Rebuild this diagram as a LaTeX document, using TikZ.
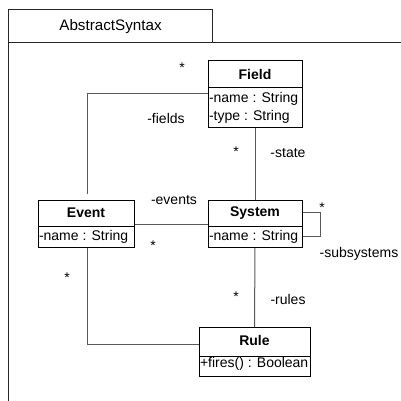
\documentclass[tikz,border=0pt]{standalone}
\usepackage{fontspec}
\setmainfont{Liberation Sans}
\begin{document}
\begin{tikzpicture}[x=1pt,y=-1pt,
  every node/.style={inner sep=0pt, outer sep=0pt, font=\fontsize{14}{16}\selectfont},
  cls/.style={draw=black, line width=1pt, fill=white, rectangle},
  sep/.style={draw=black, line width=1pt},
  conn/.style={draw=black!65, line width=1pt},
  pkg/.style={draw=black!85, line width=1pt},
  title/.style={font=\fontsize{14}{16}\selectfont\bfseries, anchor=center},
  attr/.style={anchor=west},
  lbl/.style={anchor=center}]
\useasboundingbox (0,0) rectangle (400,401);
% package
\draw[pkg] (8,402) -- (8,10) -- (212,10) -- (212,43);
\draw[pkg] (8,43) -- (402,43);
\node[lbl, font=\fontsize{15.2}{16}\selectfont] (pkgname) at (110.5,27) {AbstractSyntax};
% class boxes
\node[cls, minimum width=94, minimum height=66] (field) at (255,94) {};
\node[cls, minimum width=96, minimum height=47] (event) at (86,223.5) {};
\node[cls, minimum width=94, minimum height=47] (system) at (255,223.5) {};
\node[cls, minimum width=111, minimum height=49] (rule) at (254.5,351.5) {};
% connectors
\draw[conn, shorten >=6pt] (field.west) -| ([xshift=1pt]event.north);
\draw[conn] (field.south) -- (system.north);
\draw[conn] ([yshift=-1pt]event.east) -- ([yshift=-1pt]system.west);
\draw[conn] ([yshift=11pt]system.east) -- ++(18.7,0) |- ([yshift=-13pt]system.east);
\draw[conn] ([xshift=1pt]event.south) |- ([yshift=7.5pt]rule.west);
\draw[conn] (system.south) -- (rule.north);
% redraw boxes on top
\node[cls, minimum width=94, minimum height=66] at (field) {};
\node[cls, minimum width=96, minimum height=47] at (event) {};
\node[cls, minimum width=94, minimum height=47] at (system) {};
\node[cls, minimum width=111, minimum height=49] at (rule) {};
% Field
\draw[sep] (208,88) -- (302,88);
\node[title] (fieldt) at (255,74.5) {Field};
\node[attr] (fielda) at (209,98.5) {-name : String};
\node[attr] (fieldb) at (209,116.5) {-type : String};
% Event
\draw[sep] (38,226) -- (134,226);
\node[title] (eventt) at (86,213) {Event};
\node[attr] (eventa) at (39,237) {-name : String};
% System
\draw[sep] (208,226) -- (302,226);
\node[title] (systemt) at (255,213) {System};
\node[attr] (systema) at (209,237) {-name : String};
% Rule
\draw[sep] (199,356) -- (310,356);
\node[title] (rulet) at (254.5,340.5) {Rule};
\node[attr] (rulea) at (200,364) {+fires() : Boolean};
% labels
\node[lbl] (s1) at (182,68) {*};
\node[lbl] (l1) at (166,118.5) {-fields};
\node[lbl] (s2) at (236,152) {*};
\node[lbl] (l2) at (288,153.5) {-state};
\node[lbl] (l3) at (174,200) {-events};
\node[lbl] (s3) at (153,246) {*};
\node[lbl] (s4) at (322,208) {*};
\node[lbl] (l4) at (359,253.5) {-subsystems};
\node[lbl] (s5) at (67,278) {*};
\node[lbl] (s6) at (236,297) {*};
\node[lbl] (l5) at (288,299.5) {-rules};
\end{tikzpicture}
\end{document}
